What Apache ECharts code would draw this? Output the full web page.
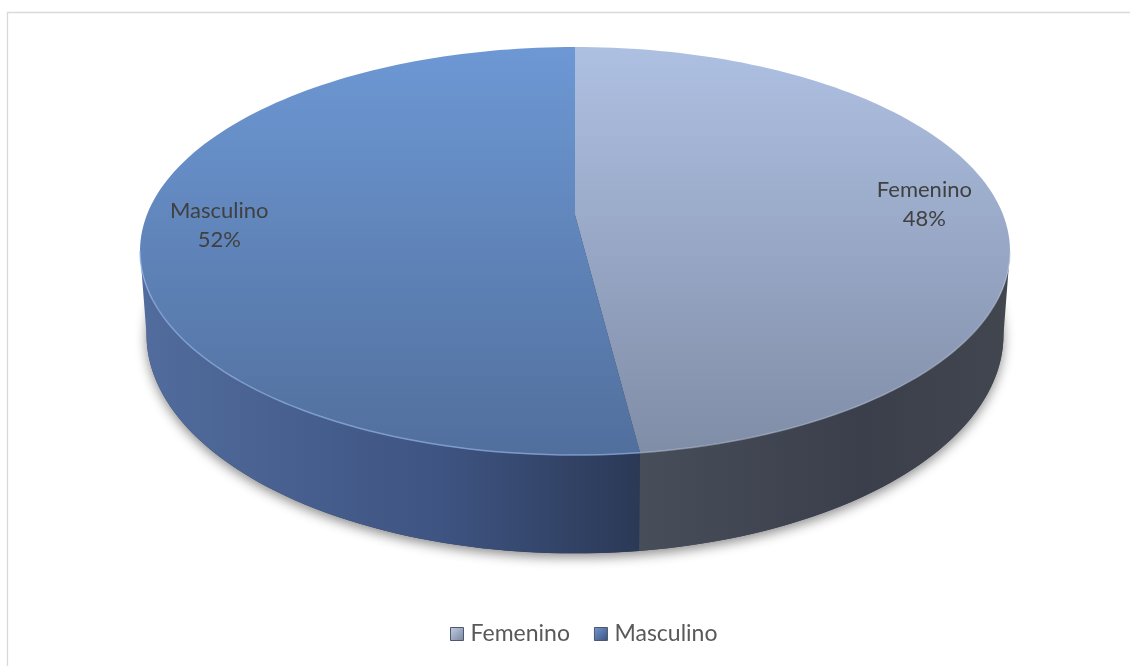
<!DOCTYPE html>
<html>
<head>
<meta charset="utf-8">
<script src="https://cdn.jsdelivr.net/npm/echarts@6/dist/echarts.min.js"></script>
<style>
  html, body { margin: 0; padding: 0; background: #ffffff; }
  #chart { width: 1130px; height: 666px; }
</style>
</head>
<body>
<div id="chart"></div>
<script>
// Data
const categories = ['Femenino', 'Masculino'];
const values = [48, 52];

// Colours per slice: top face (top→bottom), wall (left→right), legend swatch
const topColors = [['#aec0e2', '#808da7'], ['#6d98d4', '#516f9d']];
const wallColors = [['#474d59', '#3a3f4b', '#41464f'], ['#516c9d', '#3e5482', '#2b3956']];
const swatchColors = [['#c3cfe4', '#77849c'], ['#7599d3', '#37527f']];

// Perspective disc layout
const CX = 575, CY = 215;          // projected centre of the top face
const TOP_Y = 47, FRONT_Y = 455;    // far and near edge of the top face
const HALF_W = 435;                 // half of the widest extent
const DEPTH = 81;                   // wall thickness at mid depth
const BOTTOM_SHRINK = 0.985;
const LABEL_R = 0.825;              // label distance as a fraction of the radius

const K = (2 * CY - TOP_Y - FRONT_Y) / (TOP_Y - FRONT_Y);
const A = TOP_Y * (1 + K) - CY;
const R = HALF_W * Math.sqrt(1 - K * K);
const DEG = Math.PI / 180;

function project(phiDeg, drop) {
  const p = phiDeg * DEG;
  const u = Math.cos(p), v = Math.sin(p);
  const s = 1 / (1 + K * v);
  const shrink = drop ? BOTTOM_SHRINK : 1;
  return [CX + R * u * s * shrink, (A * v + CY) * s + drop * DEPTH * s];
}

function arc(from, to, drop) {
  const n = Math.max(8, Math.ceil(Math.abs(to - from) / 1.5));
  const pts = [];
  for (let j = 0; j <= n; j++) pts.push(project(from + (to - from) * j / n, drop));
  return pts;
}

// Slice angles: start at 12 o'clock, run clockwise
const total = values.reduce((a, b) => a + b, 0);
const slices = [];
let acc = 90;
values.forEach((val) => {
  const sweep = val / total * 360;
  slices.push({ start: acc, end: acc - sweep, pct: Math.round(val / total * 100) });
  acc -= sweep;
});

// Visible part of the outer wall (between the two silhouette points)
const FRONT_HI = -Math.asin(K) / DEG;
const FRONT_LO = -180 + Math.asin(K) / DEG;

function renderSlice(params) {
  const i = params.seriesIndex;
  const sl = slices[i];
  const children = [];

  if (i === 0) {
    // base disc that casts the soft drop shadow
    children.push({
      type: 'polygon',
      shape: { points: arc(0, -360, 1) },
      style: { fill: '#3a4050', shadowBlur: 12, shadowColor: 'rgba(0,0,0,0.45)', shadowOffsetY: 4 },
      z2: 0
    });
  }

  const hi = Math.min(sl.start, FRONT_HI);
  const lo = Math.max(sl.end, FRONT_LO);
  if (hi > lo) {
    const topEdge = arc(hi, lo, 0);
    const bottomEdge = arc(lo, hi, 1);
    const wc = wallColors[i];
    children.push({
      type: 'polygon',
      shape: { points: topEdge.concat(bottomEdge) },
      style: {
        fill: new echarts.graphic.LinearGradient(0, 0, 1, 0, [
          { offset: 0, color: wc[0] }, { offset: 0.6, color: wc[1] }, { offset: 1, color: wc[2] }
        ])
      },
      z2: 1
    });
    children.push({
      type: 'polyline',
      shape: { points: topEdge },
      style: { stroke: i === 1 ? 'rgba(150,180,230,0.7)' : 'rgba(190,200,220,0.5)', lineWidth: 1.5, fill: null },
      z2: 3
    });
  }

  const tc = topColors[i];
  children.push({
    type: 'polygon',
    shape: { points: [[CX, CY]].concat(arc(sl.start, sl.end, 0)) },
    style: {
      fill: new echarts.graphic.LinearGradient(0, 0, 0, 1, [
        { offset: 0, color: tc[0] }, { offset: 1, color: tc[1] }
      ])
    },
    z2: 2
  });

  // data label inside the slice
  const m = (sl.start + sl.end) / 2 * DEG;
  const lu = Math.cos(m) * LABEL_R, lv = Math.sin(m) * LABEL_R;
  const ls = 1 / (1 + K * lv);
  children.push({
    type: 'text',
    style: {
      text: categories[i] + '\n' + sl.pct + '%',
      x: CX + R * lu * ls,
      y: (A * lv + CY) * ls,
      align: 'center',
      verticalAlign: 'middle',
      fill: '#404040',
      fontFamily: 'Lato',
      fontSize: 22,
      lineHeight: 29
    },
    z2: 5
  });

  return { type: 'group', children };
}

const chart = echarts.init(document.getElementById('chart'), null, { renderer: 'canvas' });

chart.setOption({
  animation: false,
  backgroundColor: '#ffffff',
  graphic: [{
    type: 'rect',
    shape: { x: 7.5, y: 12.5, width: 1140, height: 670 },
    style: { fill: null, stroke: '#d9d9d9', lineWidth: 1.3 },
    silent: true
  }],
  legend: {
    data: categories.map((name, i) => ({
      name,
      itemStyle: {
        color: new echarts.graphic.LinearGradient(0, 0, 1, 1, [
          { offset: 0, color: swatchColors[i][0] }, { offset: 1, color: swatchColors[i][1] }
        ]),
        borderColor: '#4e5868',
        borderWidth: 1
      }
    })),
    left: 450,
    top: 621,
    padding: 0,
    icon: 'rect',
    itemWidth: 13,
    itemHeight: 13,
    itemGap: 24,
    selectedMode: false,
    textStyle: { fontFamily: 'Lato', fontSize: 23, color: '#595959', lineHeight: 26, padding: [0, 0, 0, 2] }
  },
  series: categories.map((name, i) => ({
    type: 'custom',
    name,
    coordinateSystem: 'none',
    silent: true,
    itemStyle: { color: topColors[i][1] },
    data: [[values[i]]],
    renderItem: renderSlice
  }))
});
</script>
</body>
</html>
